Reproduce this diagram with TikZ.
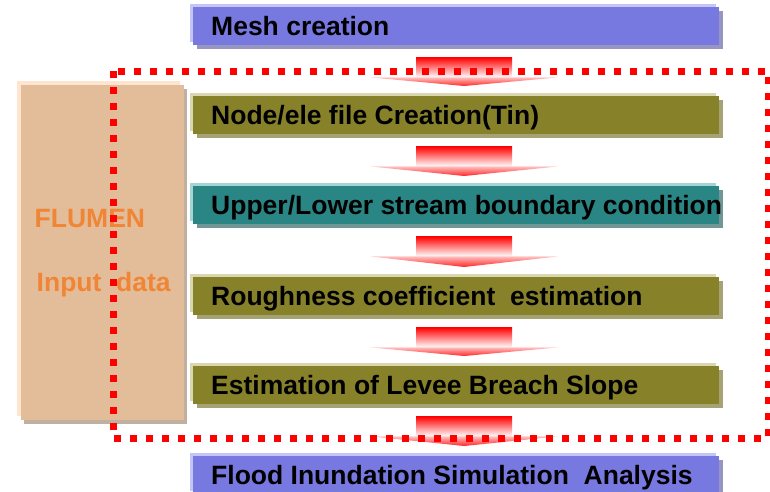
\documentclass[tikz,border=0pt]{standalone}
\usepackage{fontspec}
\setmainfont{Liberation Sans}
\usetikzlibrary{calc,shadows}

\definecolor{meshblue}{RGB}{120,120,225}
\definecolor{meshlight}{RGB}{196,196,246}
\definecolor{meshshade}{RGB}{150,150,195}
\definecolor{tinolive}{RGB}{135,130,42}
\definecolor{tinlight}{RGB}{218,215,176}
\definecolor{tinshade}{RGB}{165,162,118}
\definecolor{bndteal}{RGB}{42,133,133}
\definecolor{bndlight}{RGB}{165,212,212}
\definecolor{bndshade}{RGB}{112,150,150}
\definecolor{inputtan}{RGB}{227,189,153}
\definecolor{inputlight}{RGB}{253,229,207}
\definecolor{inputshade}{RGB}{192,176,160}
\definecolor{flumenorange}{RGB}{239,133,53}

\begin{document}
\begin{tikzpicture}[x=1pt,y=-1pt,
  stage/.style n args={3}{anchor=north west, fill=#1,
      minimum width=526pt, minimum height=38pt,
      inner xsep=18pt, inner ysep=0pt, text height=21pt, text depth=2pt,
      font=\fontsize{26.5}{30}\selectfont\bfseries, text=black,
      general shadow={fill=#3, shadow xshift=4pt, shadow yshift=-4pt},
      general shadow={fill=#2, shadow xshift=-3pt, shadow yshift=3pt}},
  meshbox/.style={stage={meshblue}{meshlight}{meshshade}},
  olivebox/.style={stage={tinolive}{tinlight}{tinshade}},
  tealbox/.style={stage={bndteal}{bndlight}{bndshade}},
  inputbox/.style={anchor=north west, fill=inputtan,
      minimum width=163pt, minimum height=335pt, align=left,
      font=\fontsize{26.5}{64}\selectfont\bfseries, text=flumenorange,
      general shadow={fill=inputshade, shadow xshift=3pt, shadow yshift=-4pt},
      general shadow={fill=inputlight, shadow xshift=-4pt, shadow yshift=4pt}}]

  \useasboundingbox (0,0) rectangle (770,491);

  % --- input data block -------------------------------------------
  \node[inputbox] (input) at (21,85) {\raisebox{-4pt}{FLUMEN}\\\hspace*{2pt}\raisebox{-4pt}{Input\ \ data}};

  % --- processing stages ------------------------------------------
  \node[meshbox]  (mesh)   at (193,7)   {\makebox[490pt][l]{Mesh creation}};
  \node[olivebox] (tin)    at (193,96)  {\makebox[490pt][l]{Node/ele file Creation(Tin)}};
  \node[tealbox]  (bound)  at (193,186) {\makebox[490pt][l]{Upper/Lower stream boundary condition}};
  \node[olivebox] (rough)  at (193,277) {\makebox[490pt][l]{Roughness coefficient\ \ estimation}};
  \node[olivebox] (breach) at (193,366) {\makebox[490pt][l]{Estimation of Levee Breach Slope}};
  \node[meshbox]  (flood)  at (193,456) {\makebox[490pt][l]{Flood Inundation Simulation\ \ Analysis}};

  % --- block arrows between stages --------------------------------
  \foreach \a/\b in {mesh/tin, tin/bound, bound/rough, rough/breach, breach/flood}{
      \shade[top color=red, middle color=red!18, bottom color=white]
          ($(\a.south)+(-40,12)$) rectangle ($(\a.south)+(56,32)$);
      \shade[top color=red!25, bottom color=red!85]
          ($(\a.south)+(-86,32)$) -- ($(\a.south)+(102,32)$)
          -- ($(\b.north)+(8,-10)$) -- cycle;
  }

  % --- dotted frame round the FLUMEN part -------------------------
  \draw[red, line width=7pt, dash pattern=on 7pt off 9pt]
      (113,71) rectangle (768,438);

\end{tikzpicture}
\end{document}
